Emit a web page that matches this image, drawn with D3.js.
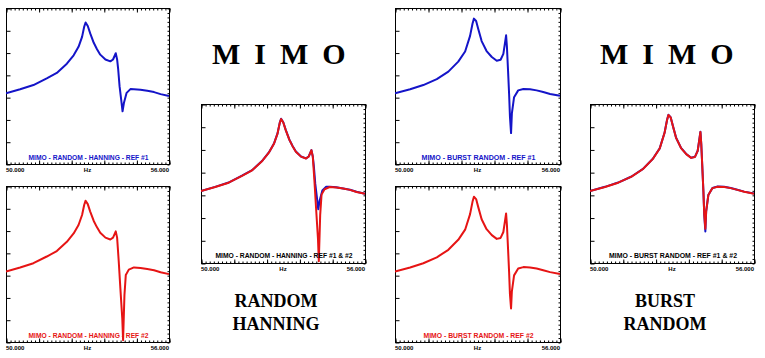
<!DOCTYPE html>
<html>
<head>
<meta charset="utf-8">
<script src="https://cdn.jsdelivr.net/npm/d3@7"></script>
<style>
  html, body { margin: 0; padding: 0; background: #fff; }
  svg { display: block; }
</style>
</head>
<body>
<svg id="chart" width="765" height="358"></svg>
<script>
// ---------- DATA ----------
// frequency (Hz) , magnitude (arbitrary log units, 0..100 = full axis)
const randomRef1 = [
  [50.00,45.3],[50.52,47.9],[51.01,50.6],[51.50,54.9],[51.87,58.4],[52.24,64.3],[52.49,69.7],
  [52.67,75.1],[52.80,81.5],[52.88,88.1],[52.93,90.7],[53.01,88.5],[53.10,83.7],[53.23,77.7],
  [53.35,73.6],[53.47,70.1],[53.66,67.0],[53.84,65.8],[53.94,67.0],[54.04,71.0],[54.09,67.0],
  [54.13,60.6],[54.18,49.9],[54.24,41.3],[54.29,33.8],[54.34,39.1],[54.44,45.6],[54.58,48.0],
  [54.71,47.9],[54.95,47.6],[55.20,46.9],[55.45,46.1],[55.69,44.8],[56.00,43.6]
];
const randomRef2 = [
  [50.00,45.2],[50.52,47.8],[51.01,50.5],[51.50,54.8],[51.87,58.3],[52.24,64.2],[52.49,69.6],
  [52.67,75.0],[52.80,81.4],[52.88,88.0],[52.93,90.6],[53.01,88.4],[53.10,83.6],[53.23,77.6],
  [53.35,73.5],[53.47,70.0],[53.66,66.9],[53.84,65.7],[53.94,66.9],[54.04,70.9],[54.09,66.9],
  [54.15,51.6],[54.21,34.4],[54.28,15.1],[54.31,1.1],[54.36,30.1],[54.41,43.0],[54.52,46.4],
  [54.71,47.8],[54.95,47.5],[55.20,46.8],[55.45,46.0],[55.69,44.7],[56.00,43.5]
];
const burstRef1 = [
  [50.00,45.3],[50.55,47.9],[51.03,50.6],[51.52,54.4],[51.94,59.2],[52.30,65.6],[52.55,72.1],
  [52.73,82.1],[52.82,90.1],[52.87,93.2],[52.95,91.7],[53.03,86.4],[53.15,78.8],[53.33,72.4],
  [53.52,68.6],[53.70,66.2],[53.84,66.8],[53.94,70.6],[54.00,77.7],[54.04,82.5],[54.07,75.1],
  [54.11,60.1],[54.15,44.6],[54.18,30.4],[54.22,19.8],[54.25,32.4],[54.33,42.8],[54.48,47.2],
  [54.67,48.1],[54.91,47.9],[55.15,47.2],[55.39,46.1],[55.64,44.9],[56.00,43.7]
];
const burstRef2 = [
  [50.00,45.2],[50.55,47.8],[51.03,50.5],[51.52,54.3],[51.94,59.1],[52.30,65.5],[52.55,72.0],
  [52.73,82.0],[52.82,90.0],[52.87,93.1],[52.95,91.6],[53.03,86.3],[53.15,78.7],[53.33,72.3],
  [53.52,68.5],[53.70,66.1],[53.84,66.7],[53.94,70.5],[54.00,77.6],[54.04,82.4],[54.07,75.0],
  [54.11,60.0],[54.15,44.5],[54.18,30.6],[54.22,21.5],[54.25,32.5],[54.33,42.7],[54.48,47.1],
  [54.67,48.0],[54.91,47.8],[55.15,47.1],[55.39,46.0],[55.64,44.8],[56.00,43.6]
];
const xTickLabels = ["50.000", "Hz", "56.000"];
const panelTitles = [
  "MIMO - RANDOM - HANNING - REF #1",
  "MIMO - RANDOM - HANNING - REF #2",
  "MIMO - RANDOM - HANNING - REF #1 & #2",
  "MIMO - BURST RANDOM - REF #1",
  "MIMO - BURST RANDOM - REF #2",
  "MIMO - BURST RANDOM - REF #1 & #2"
];
const bigTitle = "MIMO";
const captionsLeft = ["RANDOM", "HANNING"];
const captionsRight = ["BURST", "RANDOM"];

// ---------- STYLE / LAYOUT ----------
const BLUE = "#1414c8", RED = "#e61414", BLACK = "#000";
const svg = d3.select("#chart");

const panels = [
  { x0: 6,   x1: 169, y0: 8,   y1: 164, series: [[randomRef1, BLUE]], title: 0, tc: BLUE, tw: 120, ty: 4 },
  { x0: 6,   x1: 169, y0: 186, y1: 342, series: [[randomRef2, RED]], title: 1, tc: RED, tw: 120, ty: 4 },
  { x0: 201, x1: 365, y0: 104, y1: 263, series: [[randomRef1, BLUE], [randomRef2, RED]], title: 2, tc: BLACK, tw: 137, ty: 5 },
  { x0: 395, x1: 560, y0: 8,   y1: 164, series: [[burstRef1, BLUE]], title: 3, tc: BLUE, tw: 114, ty: 4 },
  { x0: 395, x1: 560, y0: 186, y1: 342, series: [[burstRef2, RED]], title: 4, tc: RED, tw: 110, ty: 4 },
  { x0: 590, x1: 754, y0: 104, y1: 263, series: [[burstRef1, BLUE], [burstRef2, RED]], title: 5, tc: BLACK, tw: 128, ty: 5 }
];

panels.forEach(p => {
  const x = d3.scaleLinear().domain([50, 56]).range([p.x0, p.x1]);
  const y = d3.scaleLinear().domain([0, 100]).range([p.y1, p.y0]);
  const g = svg.append("g");

  g.append("rect").attr("x", p.x0 + 0.5).attr("y", p.y0 + 0.5)
    .attr("width", p.x1 - p.x0).attr("height", p.y1 - p.y0)
    .attr("fill", "#fff").attr("stroke", "#000").attr("stroke-width", 1);

  const xMinor = d3.range(50, 56.0001, 0.15);
  const xMajor = d3.range(50, 56.0001, 1.2);
  const topAxis = d3.axisTop(x).tickValues(xMinor).tickSize(-2).tickFormat("");
  const botAxis = d3.axisBottom(x).tickValues(xMinor).tickSize(-2).tickFormat("");
  const topMaj = d3.axisTop(x).tickValues(xMajor).tickSize(-4).tickFormat("");
  const botMaj = d3.axisBottom(x).tickValues(xMajor).tickSize(-4).tickFormat("");
  [[topAxis, p.y0], [topMaj, p.y0], [botAxis, p.y1], [botMaj, p.y1]].forEach(([ax, yy]) => {
    const a = g.append("g").attr("transform", `translate(0.5,${yy + 0.5})`).call(ax);
    a.select(".domain").remove();
    a.selectAll("line").attr("stroke", "#000");
  });
  const yMajor = d3.range(0, 100.0001, 100 / 7);
  const yMinor = d3.range(0, 100.0001, 100 / 35);
  const leftAx = d3.axisLeft(y).tickValues(yMajor).tickSize(-4).tickFormat("");
  const rightAx = d3.axisRight(y).tickValues(yMinor).tickSize(-2).tickFormat("");
  [[leftAx, p.x0], [rightAx, p.x1]].forEach(([ax, xx]) => {
    const a = g.append("g").attr("transform", `translate(${xx + 0.5},0.5)`).call(ax);
    a.select(".domain").remove();
    a.selectAll("line").attr("stroke", "#000");
  });

  const lblY = p.y1 + 8;
  [[50, "start", xTickLabels[0]], [53, "middle", xTickLabels[1]], [56, "end", xTickLabels[2]]].forEach(([v, anc, t]) => {
    g.append("text").attr("x", x(v)).attr("y", lblY).attr("text-anchor", anc)
      .attr("font-family", "Liberation Sans, Arial, sans-serif").attr("font-size", "6px")
      .attr("font-weight", "bold").attr("fill", "#000").text(t);
  });

  const clipId = "clip" + p.title;
  svg.append("clipPath").attr("id", clipId).append("rect")
    .attr("x", p.x0).attr("y", p.y0).attr("width", p.x1 - p.x0 + 1).attr("height", p.y1 - p.y0 + 1);
  const line = d3.line().x(d => x(d[0])).y(d => y(d[1]));
  p.series.forEach(([data, col]) => {
    g.append("path").datum(data).attr("d", line)
      .attr("fill", "none").attr("stroke", col).attr("stroke-width", 2)
      .attr("stroke-linejoin", "round").attr("clip-path", `url(#${clipId})`);
  });

  const cx = (p.x0 + p.x1) / 2 + 1;
  g.append("text").attr("x", cx - p.tw / 2).attr("y", p.y1 - p.ty)
    .attr("textLength", p.tw).attr("lengthAdjust", "spacingAndGlyphs")
    .attr("font-family", "Liberation Sans, Arial, sans-serif").attr("font-size", "7px")
    .attr("font-weight", "bold").attr("fill", p.tc).text(panelTitles[p.title]);
});

[212, 600].forEach(x0 => {
  svg.append("text").attr("x", x0).attr("y", 64)
    .attr("font-family", "Liberation Serif, Times New Roman, serif")
    .attr("font-size", "30px").attr("font-weight", "bold")
    .attr("letter-spacing", "14px").attr("fill", "#000").text(bigTitle);
});
[[276, captionsLeft], [665, captionsRight]].forEach(([cx, lines]) => {
  lines.forEach((t, i) => {
    svg.append("text").attr("x", cx).attr("y", 307 + i * 23).attr("text-anchor", "middle")
      .attr("font-family", "Liberation Serif, Times New Roman, serif")
      .attr("font-size", "18px").attr("font-weight", "bold").attr("fill", "#000").text(t);
  });
});
</script>
</body>
</html>
